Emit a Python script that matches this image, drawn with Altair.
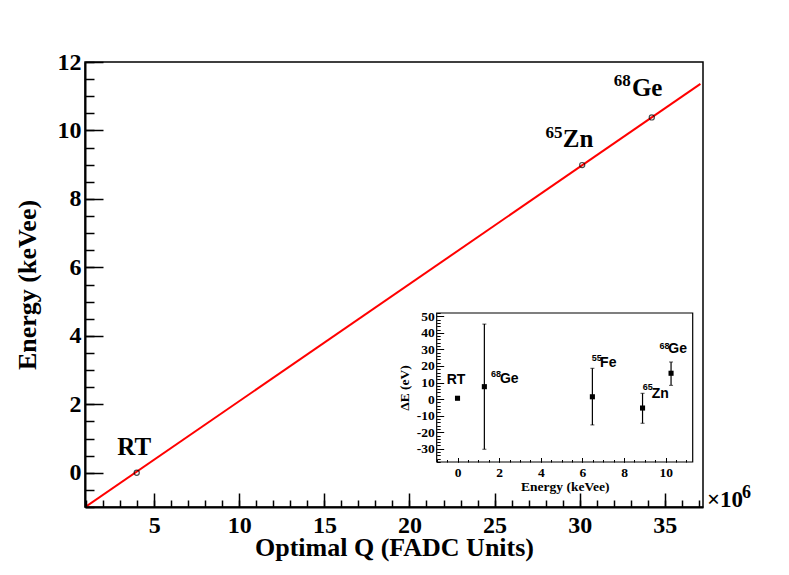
import altair as alt
import pandas as pd

SERIF = "Liberation Serif"
SANS = "Liberation Sans"

# ---------------- main plot data ----------------
pt_label = ["RT", "65Zn", "68Ge"]
pt_q = [3.97, 30.15, 34.24]
pt_e = [0.0, 8.99, 10.38]

fit_q = [0.95, 37.1]
fit_e = [-1.0, 11.36]

name_txt = ["RT", "Zn", "Ge"]
name_q = [2.83, 29.01, 33.07]
name_e = [0.52, 9.53, 11.02]
sup_txt = ["65", "68"]
sup_q = [28.0, 32.01]
sup_e = [9.79, 11.31]

x_domain = [0.93, 37.25]
y_domain = [-1, 12]
x_major = [5, 10, 15, 20, 25, 30, 35]
x_minor = [1, 2, 3, 4, 5, 6, 7, 8, 9, 10, 11, 12, 13, 14, 15, 16, 17, 18, 19,
           20, 21, 22, 23, 24, 25, 26, 27, 28, 29, 30, 31, 32, 33, 34, 35, 36, 37]
y_major = [0, 2, 4, 6, 8, 10, 12]
y_minor = [-1, -0.5, 0, 0.5, 1, 1.5, 2, 2.5, 3, 3.5, 4, 4.5, 5, 5.5, 6, 6.5,
           7, 7.5, 8, 8.5, 9, 9.5, 10, 10.5, 11, 11.5, 12]

# ---------------- inset data ----------------
in_iso = ["RT", "68Ge", "55Fe", "65Zn", "68Ge"]
in_e = [0.0, 1.29, 6.48, 8.89, 10.26]
in_de = [0.5, 7.5, 1.4, -5.4, 15.6]

err_e = [1.29, 6.48, 8.89, 10.26]
err_lo = [-30.3, -15.6, -14.6, 8.3]
err_hi = [45.3, 18.6, 3.5, 22.4]

in_name_txt = ["RT", "Ge", "Fe", "Zn", "Ge"]
in_name_e = [-0.52, 2.04, 6.85, 9.33, 10.13]
in_name_de = [8.9, 9.5, 19.6, 0.5, 27.7]
in_sup_txt = ["68", "55", "65", "68"]
in_sup_e = [1.61, 6.45, 8.90, 9.70]
in_sup_de = [13.3, 22.8, 5.3, 30.4]

in_x_domain = [-1, 11.3]
in_y_domain = [-38, 52]
in_x_major = [0, 2, 4, 6, 8, 10]
in_x_minor = [-1, -0.5, 0, 0.5, 1, 1.5, 2, 2.5, 3, 3.5, 4, 4.5, 5, 5.5, 6, 6.5,
              7, 7.5, 8, 8.5, 9, 9.5, 10, 10.5, 11]
in_y_major = [-30, -20, -10, 0, 10, 20, 30, 40, 50]
in_y_minor = [-38, -36, -34, -32, -30, -28, -26, -24, -22, -20, -18, -16, -14,
              -12, -10, -8, -6, -4, -2, 0, 2, 4, 6, 8, 10, 12, 14, 16, 18, 20,
              22, 24, 26, 28, 30, 32, 34, 36, 38, 40, 42, 44, 46, 48, 50, 52]

# ---------------- layout ----------------
W, H = 618, 445
IN_L, IN_R, IN_T, IN_B = 351.7, 607.7, 251, 400

xs = alt.Scale(domain=x_domain, nice=False, zero=False)
ys = alt.Scale(domain=y_domain, nice=False, zero=False)
ixs = alt.Scale(domain=in_x_domain, range=[IN_L, IN_R], nice=False, zero=False)
iys = alt.Scale(domain=in_y_domain, range=[IN_B, IN_T], nice=False, zero=False)

df_fit = pd.DataFrame({"q": fit_q, "e": fit_e})
df_pts = pd.DataFrame({"q": pt_q, "e": pt_e, "lab": pt_label})
df_name = pd.DataFrame({"q": name_q, "e": name_e, "t": name_txt})
df_sup = pd.DataFrame({"q": sup_q, "e": sup_e, "t": sup_txt})
df_exp = pd.DataFrame({"q": [x_domain[1]], "e": [y_domain[0]]})

df_frame = pd.DataFrame({"x0": [in_x_domain[0]], "x1": [in_x_domain[1]],
                         "y0": [in_y_domain[0]], "y1": [in_y_domain[1]]})
df_in = pd.DataFrame({"x": in_e, "y": in_de, "iso": in_iso})
df_err = pd.DataFrame({"x": err_e, "lo": err_lo, "hi": err_hi})
df_caps = pd.concat([pd.DataFrame({"x": err_e, "y": err_lo}),
                     pd.DataFrame({"x": err_e, "y": err_hi})])
df_in_name = pd.DataFrame({"x": in_name_e, "y": in_name_de, "t": in_name_txt})
df_in_sup = pd.DataFrame({"x": in_sup_e, "y": in_sup_de, "t": in_sup_txt})


def lab_axis(orient, values, title, fs, tfs, pad, tpad, offset=0, domain=True):
    return alt.Axis(orient=orient, values=values, ticks=False, domain=domain,
                    domainColor="black", domainWidth=2, offset=offset,
                    labelFont=SERIF, labelFontSize=fs, labelFontWeight="bold",
                    labelColor="black", labelPadding=pad, labelFlush=False,
                    labelOverlap=False, labelExpr="'' + datum.value",
                    title=title, titleFont=SERIF, titleFontSize=tfs,
                    titleFontWeight="bold", titleColor="black",
                    titlePadding=tpad, grid=False, zindex=2)


def tick_axis(orient, values, size, offset, width=1.5):
    return alt.Axis(orient=orient, values=values, ticks=True, tickSize=size,
                    tickColor="black", tickWidth=width, offset=offset,
                    labels=False, domain=False, grid=False, zindex=2)


# ---------------- main layers ----------------
fit = alt.Chart(df_fit).mark_line(color="#ff0000", strokeWidth=2, clip=True).encode(
    x=alt.X("q:Q", scale=xs,
            axis=lab_axis("bottom", x_major, "Optimal Q (FADC Units)", 24, 26, 6, -3)),
    y=alt.Y("e:Q", scale=ys,
            axis=lab_axis("left", y_major, "Energy (keVee)", 24, 26, 4, 17)),
)

pts = alt.Chart(df_pts).mark_point(shape="circle", filled=False, color="black",
                                   size=26, strokeWidth=1.2).encode(
    x=alt.X("q:Q", scale=xs, title=None, axis=tick_axis("bottom", x_major, 14, -14)),
    y=alt.Y("e:Q", scale=ys, title=None, axis=tick_axis("left", y_major, 18, -18)),
)

names = alt.Chart(df_name).mark_text(font=SERIF, fontWeight="bold", fontSize=25,
                                     align="left", baseline="alphabetic",
                                     color="black").encode(
    x=alt.X("q:Q", scale=xs, title=None, axis=tick_axis("bottom", x_minor, 7, -7)),
    y=alt.Y("e:Q", scale=ys, title=None, axis=tick_axis("left", y_minor, 9, -9)),
    text="t:N",
)

sups = alt.Chart(df_sup).mark_text(font=SERIF, fontWeight="bold", fontSize=17,
                                   align="left", baseline="alphabetic",
                                   color="black").encode(
    x=alt.X("q:Q", scale=xs, axis=None),
    y=alt.Y("e:Q", scale=ys, axis=None),
    text="t:N",
)

exp_main = alt.Chart(df_exp).mark_text(font=SERIF, fontWeight="bold", fontSize=23,
                                       align="left", baseline="alphabetic", dx=4,
                                       color="black").encode(
    x=alt.X("q:Q", scale=xs, axis=None),
    y=alt.Y("e:Q", scale=ys, axis=None),
    text=alt.value("×10"),
)
exp_sup = alt.Chart(df_exp).mark_text(font=SERIF, fontWeight="bold", fontSize=18,
                                      align="left", baseline="alphabetic", dx=39,
                                      dy=-9, color="black").encode(
    x=alt.X("q:Q", scale=xs, axis=None),
    y=alt.Y("e:Q", scale=ys, axis=None),
    text=alt.value("6"),
)

# ---------------- inset layers ----------------
frame = alt.Chart(df_frame).mark_rect(fill="white", stroke="black", strokeWidth=1.2).encode(
    x=alt.X("x0:Q", scale=ixs,
            axis=lab_axis("bottom", in_x_major, "Energy (keVee)", 13.5, 13.5, 3, 1,
                          offset=-(H - IN_B), domain=False)),
    x2="x1:Q",
    y=alt.Y("y0:Q", scale=iys,
            axis=lab_axis("left", in_y_major, "ΔE (eV)", 13.5, 13.5, 2.5, 5,
                          offset=-IN_L, domain=False)),
    y2="y1:Q",
)

errs = alt.Chart(df_err).mark_rule(color="black", strokeWidth=1.2).encode(
    x=alt.X("x:Q", scale=ixs, title=None,
            axis=tick_axis("bottom", in_x_major, 4.5, -(H - IN_B) - 4.5, 1)),
    y=alt.Y("lo:Q", scale=iys, title=None,
            axis=tick_axis("left", in_y_major, 7, -IN_L - 7, 1)),
    y2="hi:Q",
)

caps = alt.Chart(df_caps).mark_tick(orient="horizontal", size=4, thickness=1,
                                    color="black").encode(
    x=alt.X("x:Q", scale=ixs, title=None,
            axis=tick_axis("bottom", in_x_minor, 2.5, -(H - IN_B) - 2.5, 1)),
    y=alt.Y("y:Q", scale=iys, title=None,
            axis=tick_axis("left", in_y_minor, 3.5, -IN_L - 3.5, 1)),
)

squares = alt.Chart(df_in).mark_point(shape="square", filled=True, color="black",
                                      size=26, opacity=1).encode(
    x=alt.X("x:Q", scale=ixs, axis=None),
    y=alt.Y("y:Q", scale=iys, axis=None),
)

in_names = alt.Chart(df_in_name).mark_text(font=SANS, fontWeight="bold", fontSize=14,
                                           align="left", baseline="alphabetic",
                                           color="black").encode(
    x=alt.X("x:Q", scale=ixs, axis=None),
    y=alt.Y("y:Q", scale=iys, axis=None),
    text="t:N",
)

in_sups = alt.Chart(df_in_sup).mark_text(font=SANS, fontWeight="bold", fontSize=9,
                                         align="left", baseline="alphabetic",
                                         color="black").encode(
    x=alt.X("x:Q", scale=ixs, axis=None),
    y=alt.Y("y:Q", scale=iys, axis=None),
    text="t:N",
)

chart = alt.layer(
    fit, pts, names, sups, exp_main, exp_sup,
    frame, errs, caps, squares, in_names, in_sups,
).resolve_scale(
    x="independent", y="independent"
).resolve_axis(
    x="independent", y="independent"
).properties(
    width=W, height=H,
    autosize=alt.AutoSizeParams(type="none"),
    padding={"left": 77, "top": 54, "right": 60, "bottom": 62},
    background="white",
).configure_view(
    stroke="black", strokeWidth=1.5
)

chart.save("out.html", embed_options={"renderer": "svg", "actions": False})
